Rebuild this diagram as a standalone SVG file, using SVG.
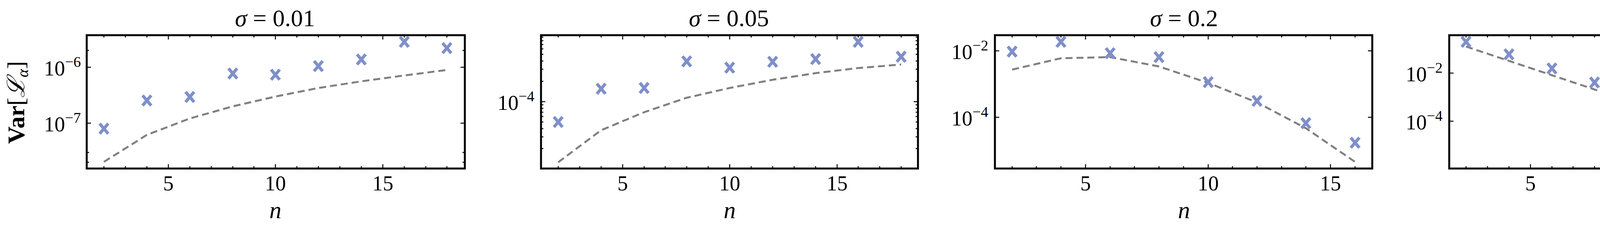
<svg xmlns="http://www.w3.org/2000/svg" width="4690" height="578" viewBox="0 0 4690 578">
<style>
text{font-family:"Liberation Serif","DejaVu Serif",serif;fill:#000}
.t{font-size:62px;text-anchor:middle}
.tl{font-size:54px;text-anchor:middle}
.yl{font-size:54px;text-anchor:end}
.frame{fill:none;stroke:#000;stroke-width:5}
.tick{fill:none;stroke:#000;stroke-width:2.5}
.dash{fill:none;stroke:#808080;stroke-width:5;stroke-dasharray:18 10}
</style>
<defs>
<path id="x" d="M-11,-13 L11,13 M11,-13 L-11,13" fill="none" stroke="#7f8fca" stroke-width="8"/>
</defs>
<rect width="4690" height="578" fill="#fff"/>

<g id="panel1">
<text class="t" x="704" y="67"><tspan font-style="italic">σ</tspan> = 0.01</text>
<rect class="frame" x="222" y="90" width="968" height="341"/>
<path class="tick" d="M266,431v-6M321,431v-6M376,431v-6M486,431v-6M541,431v-6M596,431v-6M650,431v-6M760,431v-6M815,431v-6M870,431v-6M925,431v-6M1035,431v-6M1090,431v-6M1144,431v-6M266,90v6M321,90v6M376,90v6M486,90v6M541,90v6M596,90v6M650,90v6M760,90v6M815,90v6M870,90v6M925,90v6M1035,90v6M1090,90v6M1144,90v6M431,431v-11M705,431v-11M980,431v-11M431,90v11M705,90v11M980,90v11M222,172h11M222,315h11M1190,172h-11M1190,315h-11M222,129h6M222,390h6M222,415h6M1190,129h-6M1190,390h-6M1190,415h-6"/>
<text class="tl" x="431" y="487">5</text><text class="tl" x="705" y="487">10</text><text class="tl" x="980" y="487">15</text>
<text class="yl" x="207" y="193">10<tspan dy="-22" font-size="38">−6</tspan></text>
<text class="yl" x="207" y="336">10<tspan dy="-22" font-size="38">−7</tspan></text>
<text class="t" x="705" y="558" font-style="italic">n</text>
<text class="t" font-size="64" transform="translate(62,262) rotate(-90)"><tspan font-weight="bold">Var</tspan>[<tspan font-style="italic">ℒ</tspan><tspan font-style="italic" font-size="40" dy="10">α</tspan><tspan dy="-10">]</tspan></text>
<polyline class="dash" points="266,414 376,345 486,303 596,272 705,247 815,225 925,208 1035,193 1144,179"/>
<g class="pts"><use href="#x" x="266" y="329"/><use href="#x" x="376" y="257"/><use href="#x" x="486" y="248"/><use href="#x" x="596" y="188"/><use href="#x" x="705" y="191"/><use href="#x" x="815" y="169"/><use href="#x" x="925" y="152"/><use href="#x" x="1035" y="107"/><use href="#x" x="1144" y="123"/></g>
</g>

<g id="panel2">
<text class="t" x="1866" y="67"><tspan font-style="italic">σ</tspan> = 0.05</text>
<rect class="frame" x="1385" y="90" width="965" height="341"/>
<path class="tick" d="M1429,431v-6M1484,431v-6M1539,431v-6M1649,431v-6M1703,431v-6M1758,431v-6M1813,431v-6M1923,431v-6M1978,431v-6M2033,431v-6M2088,431v-6M2197,431v-6M2252,431v-6M2307,431v-6M1429,90v6M1484,90v6M1539,90v6M1649,90v6M1703,90v6M1758,90v6M1813,90v6M1923,90v6M1978,90v6M2033,90v6M2088,90v6M2197,90v6M2252,90v6M2307,90v6M1594,431v-11M1868,431v-11M2143,431v-11M1594,90v11M1868,90v11M2143,90v11M1385,260h11M2350,260h-11M1385,380h6M1385,350h6M1385,329h6M1385,312h6M1385,298h6M1385,287h6M1385,277h6M1385,268h6M1385,208h6M1385,177h6M1385,156h6M1385,139h6M1385,125h6M1385,114h6M1385,104h6M1385,95h6M2350,380h-6M2350,350h-6M2350,329h-6M2350,312h-6M2350,298h-6M2350,287h-6M2350,277h-6M2350,268h-6M2350,208h-6M2350,177h-6M2350,156h-6M2350,139h-6M2350,125h-6M2350,114h-6M2350,104h-6M2350,95h-6"/>
<text class="tl" x="1594" y="487">5</text><text class="tl" x="1868" y="487">10</text><text class="tl" x="2143" y="487">15</text>
<text class="yl" x="1368" y="281">10<tspan dy="-22" font-size="38">−4</tspan></text>
<text class="t" x="1868" y="558" font-style="italic">n</text>
<polyline class="dash" points="1429,415 1539,333 1649,287 1758,250 1868,225 1978,204 2088,187 2197,174 2307,165"/>
<g class="pts"><use href="#x" x="1429" y="312"/><use href="#x" x="1539" y="227"/><use href="#x" x="1649" y="225"/><use href="#x" x="1758" y="157"/><use href="#x" x="1868" y="173"/><use href="#x" x="1978" y="158"/><use href="#x" x="2088" y="151"/><use href="#x" x="2197" y="107"/><use href="#x" x="2307" y="145"/></g>
</g>

<g id="panel3">
<text class="t" x="3031" y="67"><tspan font-style="italic">σ</tspan> = 0.2</text>
<rect class="frame" x="2547" y="90" width="966" height="341"/>
<path class="tick" d="M2591,431v-6M2653,431v-6M2716,431v-6M2842,431v-6M2904,431v-6M2967,431v-6M3030,431v-6M3155,431v-6M3218,431v-6M3281,431v-6M3343,431v-6M3469,431v-6M2591,90v6M2653,90v6M2716,90v6M2842,90v6M2904,90v6M2967,90v6M3030,90v6M3155,90v6M3218,90v6M3281,90v6M3343,90v6M3469,90v6M2779,431v-11M3093,431v-11M3406,431v-11M2779,90v11M3093,90v11M3406,90v11M2547,130h11M2547,300h11M3513,130h-11M3513,300h-11"/>
<text class="tl" x="2779" y="487">5</text><text class="tl" x="3093" y="487">10</text><text class="tl" x="3406" y="487">15</text>
<text class="yl" x="2530" y="151">10<tspan dy="-22" font-size="38">−2</tspan></text>
<text class="yl" x="2530" y="321">10<tspan dy="-22" font-size="38">−4</tspan></text>
<text class="t" x="3031" y="558" font-style="italic">n</text>
<polyline class="dash" points="2591,178 2716,149 2842,146 2967,170 3093,212 3218,262 3343,328 3469,414"/>
<g class="pts"><use href="#x" x="2591" y="132"/><use href="#x" x="2716" y="107"/><use href="#x" x="2842" y="136"/><use href="#x" x="2967" y="146"/><use href="#x" x="3093" y="210"/><use href="#x" x="3218" y="258"/><use href="#x" x="3343" y="315"/><use href="#x" x="3469" y="365"/></g>
</g>

<g id="panel4">
<text class="t" x="4190" y="67"><tspan font-style="italic">σ</tspan> = 1</text>
<rect class="frame" x="3710" y="90" width="966" height="341"/>
<path class="tick" d="M3753,431v-6M3808,431v-6M3863,431v-6M3973,431v-6M4027,431v-6M4082,431v-6M4137,431v-6M4247,431v-6M4302,431v-6M4357,431v-6M4412,431v-6M4521,431v-6M4576,431v-6M4631,431v-6M3753,90v6M3808,90v6M3863,90v6M3973,90v6M4027,90v6M4082,90v6M4137,90v6M4247,90v6M4302,90v6M4357,90v6M4412,90v6M4521,90v6M4576,90v6M4631,90v6M3918,431v-11M4192,431v-11M4467,431v-11M3918,90v11M4192,90v11M4467,90v11M3710,187h11M3710,310h11M4676,187h-11M4676,310h-11"/>
<text class="tl" x="3918" y="487">5</text><text class="tl" x="4192" y="487">10</text><text class="tl" x="4467" y="487">15</text>
<text class="yl" x="3693" y="208">10<tspan dy="-22" font-size="38">−2</tspan></text>
<text class="yl" x="3693" y="331">10<tspan dy="-22" font-size="38">−4</tspan></text>
<text class="t" x="4190" y="558" font-style="italic">n</text>
<polyline class="dash" points="3753,119 4631,412"/>
<g class="pts"><use href="#x" x="3753" y="107"/><use href="#x" x="3863" y="139"/><use href="#x" x="3973" y="175"/><use href="#x" x="4082" y="211"/><use href="#x" x="4192" y="248"/><use href="#x" x="4302" y="285"/><use href="#x" x="4412" y="322"/><use href="#x" x="4521" y="359"/><use href="#x" x="4631" y="397"/></g>
</g>
</svg>
